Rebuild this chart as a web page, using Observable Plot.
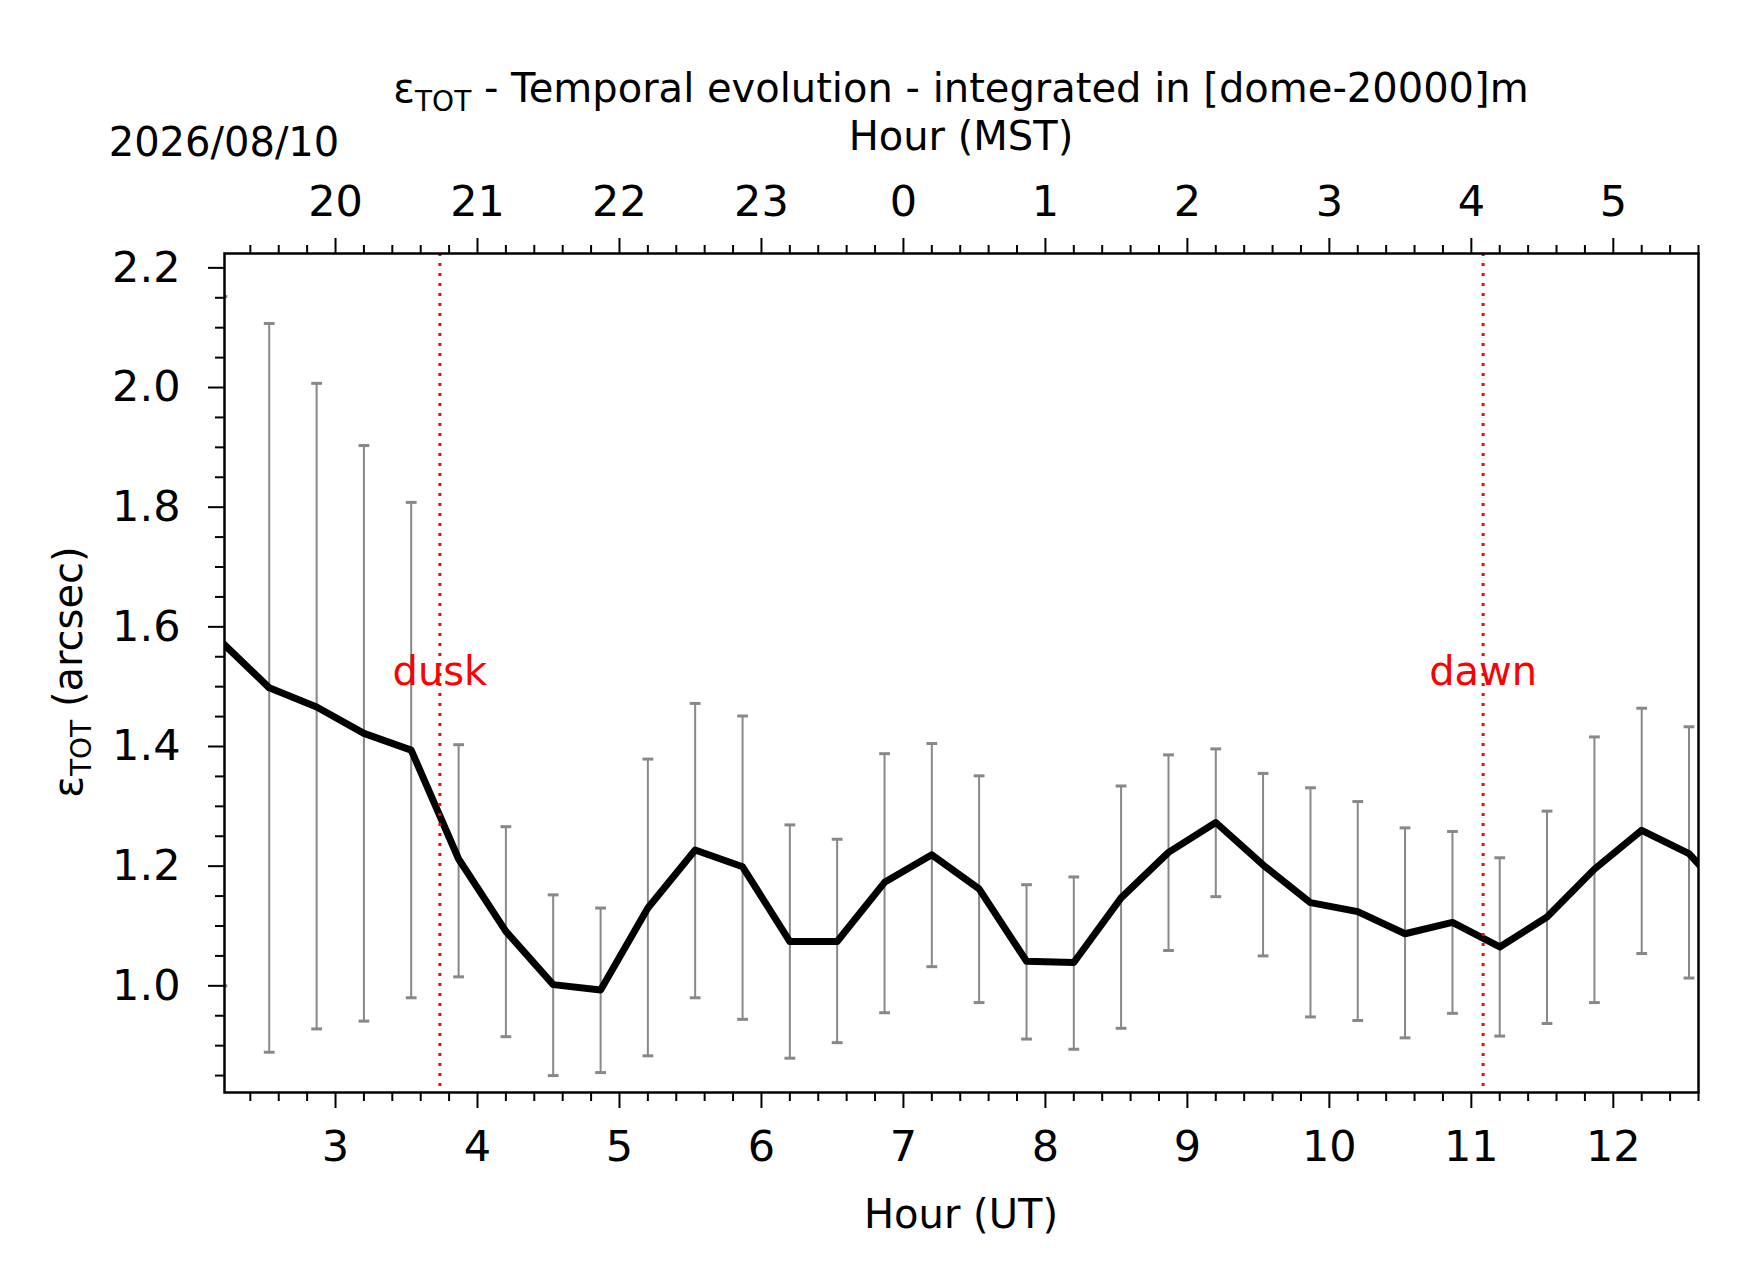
<!DOCTYPE html>
<html><head><meta charset="utf-8">
<script src="https://cdn.jsdelivr.net/npm/d3@7"></script>
<script src="https://cdn.jsdelivr.net/npm/@observablehq/plot@0.6"></script>
<style>body{margin:0;background:#fff}svg{font-family:"DejaVu Sans",sans-serif}</style>
</head><body><div id="c"></div>
<script>
const hours = [2.2,2.533,2.867,3.2,3.533,3.867,4.2,4.533,4.867,5.2,5.533,5.867,6.2,6.533,6.867,7.2,7.533,7.867,8.2,8.533,8.867,9.2,9.533,9.867,10.2,10.533,10.867,11.2,11.533,11.867,12.2,12.533,12.867];
const seeing = [1.574,1.498,1.466,1.422,1.394,1.212,1.091,1.002,0.993,1.130,1.227,1.199,1.074,1.074,1.173,1.219,1.162,1.041,1.039,1.147,1.223,1.273,1.202,1.139,1.124,1.087,1.106,1.065,1.115,1.195,1.260,1.221,1.134];
const upper = [2.152,2.107,2.007,1.903,1.808,1.403,1.266,1.152,1.130,1.379,1.472,1.451,1.269,1.245,1.388,1.405,1.351,1.169,1.182,1.334,1.386,1.396,1.355,1.331,1.308,1.264,1.258,1.214,1.292,1.416,1.464,1.433,1.33];
const lower = [1.0,0.889,0.928,0.941,0.980,1.015,0.915,0.850,0.855,0.883,0.980,0.944,0.879,0.905,0.955,1.032,0.972,0.911,0.894,0.929,1.059,1.149,1.050,0.948,0.942,0.913,0.954,0.916,0.937,0.972,1.054,1.013,0.94];
const xMajor = [3,4,5,6,7,8,9,10,11,12];
const xMinor = d3.range(2.4,12.61,0.2).map(v=>+v.toFixed(2)).filter(v=>Math.abs(v-Math.round(v))>0.01);
const yMajor = [1.0,1.2,1.4,1.6,1.8,2.0,2.2];
const yMinor = d3.range(0.85,2.21,0.05).map(v=>+v.toFixed(2)).filter(v=>!yMajor.some(m=>Math.abs(m-v)<0.001));
const events = [{x:3.735,label:"dusk"},{x:11.083,label:"dawn"}];
const mstOffset = -7;
const rows = hours.map((h,i)=>({h,v:seeing[i],hi:upper[i],lo:lower[i]}));
const fs = 43;
const chart = Plot.plot({
  width:1742,height:1282,
  marginLeft:224,marginRight:44,marginTop:253,marginBottom:190,
  style:{fontSize:fs+"px",fontFamily:"DejaVu Sans",color:"#000",background:"#fff"},
  x:{domain:[2.218,12.6]},
  y:{domain:[0.8217,2.224]},
  marks:[
    Plot.ruleX(rows,{x:"h",y1:"lo",y2:"hi",stroke:"#888",strokeWidth:2,clip:"frame"}),
    Plot.link(rows,{x1:d=>d.h-0.038,x2:d=>d.h+0.038,y1:"hi",y2:"hi",stroke:"#888",strokeWidth:3,clip:"frame"}),
    Plot.link(rows,{x1:d=>d.h-0.038,x2:d=>d.h+0.038,y1:"lo",y2:"lo",stroke:"#888",strokeWidth:3,clip:"frame"}),
    Plot.line(rows,{x:"h",y:"v",stroke:"#000",strokeWidth:7,clip:"frame"}),
    Plot.ruleX(events,{x:"x",stroke:"red",strokeWidth:3,strokeDasharray:"3,7"}),
    Plot.text(events,{x:"x",y:()=>1.524,text:"label",fill:"red",fontSize:40}),
    Plot.axisX(xMajor,{anchor:"bottom",tickSize:16,strokeWidth:2,tickPadding:22,fontSize:fs,label:null,tickFormat:d=>String(d)}),
    Plot.axisX(xMinor,{anchor:"bottom",tickSize:9,strokeWidth:2,text:null,label:null}),
    Plot.axisX(xMajor,{anchor:"top",tickSize:16,strokeWidth:2,tickPadding:22,fontSize:fs,label:null,tickFormat:d=>String((d+mstOffset+24)%24)}),
    Plot.axisX(xMinor,{anchor:"top",tickSize:9,strokeWidth:2,text:null,label:null}),
    Plot.axisY(yMajor,{anchor:"left",tickSize:16,strokeWidth:2,tickPadding:28,fontSize:fs,label:null,tickFormat:d3.format(".1f")}),
    Plot.axisY(yMinor,{anchor:"left",tickSize:9,strokeWidth:2,text:null,label:null}),
    Plot.frame({stroke:"#000",strokeWidth:2.5})
  ]
});
document.getElementById("c").appendChild(chart);
const svg = d3.select(chart);
const tf = 40;
const t = svg.append("text").attr("x",961).attr("y",102).attr("text-anchor","middle").attr("font-size",tf);
t.append("tspan").text("ε");
t.append("tspan").attr("font-size",28).attr("dy",9).text("TOT");
t.append("tspan").attr("dy",-9).text(" - Temporal evolution - integrated in [dome-20000]m");
svg.append("text").attr("x",961).attr("y",150).attr("text-anchor","middle").attr("font-size",tf).text("Hour (MST)");
svg.append("text").attr("x",224).attr("y",156).attr("font-size",tf).text("2026/08/10");
svg.append("text").attr("x",961).attr("y",1228).attr("text-anchor","middle").attr("font-size",tf).text("Hour (UT)");
const yl = svg.append("text").attr("transform","translate(82,672) rotate(-90)").attr("text-anchor","middle").attr("font-size",tf);
yl.append("tspan").text("ε");
yl.append("tspan").attr("font-size",28).attr("dy",9).text("TOT");
yl.append("tspan").attr("dy",-9).text(" (arcsec)");
</script></body></html>
